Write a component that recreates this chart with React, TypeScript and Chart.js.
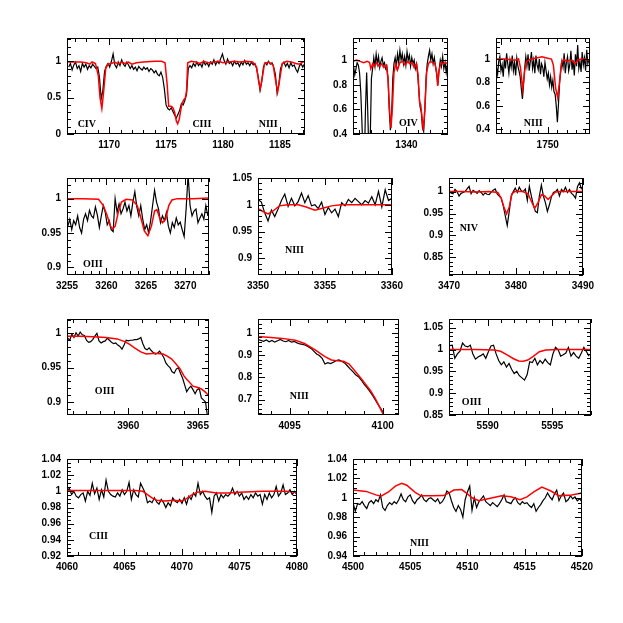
import React, { useEffect, useRef } from "react";
import { Chart, registerables } from "chart.js";
Chart.register(...registerables);

// ---------- Panel 1: 1166-1187 Å (CIV, CIII, NIII) ----------
const P1_OBS_START = 1166.45;
const P1_OBS_STEP = 0.15;
const P1_OBS_FLUX = [
  0.92, 0.97, 0.88, 0.95, 0.99, 0.9, 0.94, 0.86, 0.97, 0.92,
  0.96, 0.89, 0.94, 0.91, 0.96, 0.93, 0.9, 0.92, 0.78, 0.48,
  0.6, 0.86, 0.93, 0.97, 0.92, 1.0, 1.1, 0.95, 0.91, 0.99,
  0.94, 1.02, 0.96, 0.93, 0.99, 0.95, 0.9, 0.94, 0.89, 0.92,
  0.87, 0.93, 0.9, 0.88, 0.92, 0.89, 0.91, 0.86, 0.9, 0.88,
  0.84, 0.87, 0.82, 0.8, 0.85, 0.78, 0.62, 0.4, 0.35, 0.33,
  0.36, 0.31, 0.26, 0.22, 0.27, 0.33, 0.42, 0.4, 0.46, 0.55,
  0.9, 0.94, 0.91, 0.97, 0.93, 0.99, 0.94, 0.97, 0.92, 1.0,
  0.95, 0.98, 0.93, 0.99, 0.96, 1.02, 0.95, 1.0, 0.97, 1.04,
  1.1, 1.01, 0.96, 1.03, 0.97, 0.99, 0.94, 1.0, 0.96, 0.98,
  0.93, 0.99, 0.95, 1.01, 0.96, 0.98, 0.94, 0.99, 0.95, 0.97,
  0.9, 0.78, 0.6, 0.72, 0.92, 0.98, 0.95, 1.0, 0.96, 0.98,
  0.92, 0.82, 0.56, 0.68, 0.9, 0.96, 0.99, 0.93, 0.97, 0.91,
  0.98, 0.93, 0.95, 0.89, 0.85, 0.93, 0.97, 0.92, 0.96, 0.94,
];
const P1_MODEL_WAVE = [
  1166.3, 1167.0, 1167.5, 1168.0, 1168.3, 1168.5, 1168.8, 1169.05, 1169.2, 1169.36,
  1169.5, 1169.7, 1169.9, 1170.2, 1170.5, 1170.8, 1171.1, 1171.4, 1171.7, 1172.0,
  1172.4, 1173.0, 1174.0, 1174.6, 1174.91, 1175.09, 1175.23, 1175.45, 1175.6, 1175.75,
  1175.9, 1176.02, 1176.15, 1176.26, 1176.4, 1176.55, 1176.7, 1176.8, 1176.9, 1177.2,
  1177.6, 1178.0, 1178.3, 1178.7, 1179.2, 1179.6, 1180.0, 1180.5, 1181.0, 1181.5,
  1182.0, 1182.6, 1182.95, 1183.1, 1183.27, 1183.45, 1183.65, 1184.0, 1184.4, 1184.6,
  1184.8, 1184.95, 1185.2, 1185.6, 1186.0, 1186.4, 1186.7, 1187.0, 1187.3,
];
const P1_MODEL_FLUX = [
  0.99, 0.99, 0.99, 0.98, 0.96, 0.99, 0.97, 0.8, 0.5, 0.35,
  0.55, 0.9, 0.96, 0.97, 0.99, 0.96, 0.99, 0.97, 0.99, 0.96,
  0.98, 0.99, 1.0, 1.0, 0.98, 0.69, 0.38, 0.38, 0.36, 0.3,
  0.18, 0.14, 0.2, 0.3, 0.42, 0.47, 0.5, 0.6, 0.98, 1.0,
  0.99, 0.97, 1.0, 0.98, 0.99, 1.0, 0.98, 0.99, 1.0, 0.99,
  1.0, 0.99, 0.92, 0.75, 0.62, 0.78, 0.97, 0.99, 0.95, 0.75,
  0.58, 0.72, 0.97, 1.0, 0.99, 0.97, 0.96, 0.99, 1.0,
];
const P1_X_TICKS = [1170, 1175, 1180, 1185];
const P1_Y_TICKS = [0, 0.5, 1];

// ---------- Panel 2: OIV 1340 ----------
const P2_OBS_START = 1335.55;
const P2_OBS_STEP = 0.1;
const P2_OBS_FLUX = [
  0.95, 0.88, 0.93, 0.98, 0.96, 0.9, 0.75, 0.5, 0.2, 0.15,
  0.6, 0.9, 0.55, 0.2, 0.35, 0.85, 0.93, 1.02, 0.95, 1.05,
  0.97, 1.03, 0.94, 0.99, 1.02, 0.96, 0.98, 0.93, 0.95, 0.85,
  0.6, 0.43, 0.55, 0.85, 0.97, 1.02, 0.95, 1.05, 0.98, 1.08,
  1.0, 1.05, 0.97, 1.03, 0.96, 1.07, 1.0, 1.04, 0.95, 1.02,
  0.97, 1.0, 0.93, 0.97, 0.88, 0.75, 0.62, 0.58, 0.45, 0.42,
  0.6, 0.85, 0.97, 1.03, 1.08, 1.0, 1.05, 0.97, 1.02, 0.95,
  0.88, 0.8, 0.92, 1.0, 0.95, 1.03, 0.93, 0.98, 0.9, 0.97,
];
const P2_MODEL_WAVE = [
  1335.5, 1335.8, 1336.1, 1336.4, 1336.7, 1336.9, 1337.0, 1337.15, 1337.3, 1337.5,
  1337.7, 1337.9, 1338.1, 1338.3, 1338.45, 1338.58, 1338.7, 1338.82, 1338.95, 1339.1,
  1339.25, 1339.45, 1339.7, 1339.9, 1340.1, 1340.3, 1340.5, 1340.65, 1340.85, 1340.98,
  1341.1, 1341.2, 1341.3, 1341.42, 1341.55, 1341.7, 1341.85, 1342.0, 1342.2, 1342.4,
  1342.55, 1342.63, 1342.72, 1342.9, 1343.1, 1343.3, 1343.5,
];
const P2_MODEL_FLUX = [
  0.99, 1.0, 0.99, 0.98, 0.99, 0.98, 0.93, 0.97, 0.95, 0.98,
  0.95, 0.97, 0.94, 0.96, 0.85, 0.6, 0.45, 0.62, 0.9, 0.97,
  0.92, 0.98, 0.99, 0.96, 0.99, 0.97, 0.98, 0.94, 0.97, 0.88,
  0.66, 0.64, 0.55, 0.43, 0.6, 0.9, 0.97, 0.99, 0.98, 0.97,
  0.9, 0.79, 0.9, 0.98, 0.97, 0.98, 0.97,
];
const P2_X_TICKS = [1340];
const P2_Y_TICKS = [0.4, 0.6, 0.8, 1];

// ---------- Panel 3: NIII 1750 ----------
const P3_OBS_START = 1744.55;
const P3_OBS_STEP = 0.12;
const P3_OBS_FLUX = [
  0.93, 0.87, 0.98, 1.02, 0.9, 0.95, 0.85, 1.0, 0.92, 1.05,
  0.96, 0.88, 0.99, 0.93, 1.03, 0.9, 0.97, 0.86, 1.01, 0.94,
  0.9, 0.85, 0.75, 0.66, 0.78, 0.92, 1.02, 0.94, 1.04, 0.9,
  0.98, 1.06, 0.92, 0.99, 0.88, 1.03, 0.95, 0.91, 1.0, 0.87,
  0.96, 0.93, 0.85, 0.97, 0.9, 0.83, 0.88, 0.78, 0.85, 0.76,
  0.82, 0.72, 0.7, 0.6, 0.46, 0.62, 0.8, 0.9, 0.98, 0.93,
  1.05, 0.88, 0.97, 1.02, 0.9, 0.95, 1.07, 0.91, 0.99, 0.86,
  1.04, 0.94, 1.12, 0.92, 0.98, 0.89, 1.06, 0.95, 1.01, 0.9,
  1.08, 0.96, 1.0,
];
const P3_MODEL_WAVE = [
  1744.5, 1745.5, 1746.5, 1746.9, 1747.1, 1747.34, 1747.55, 1747.75, 1748.2, 1748.8,
  1749.4, 1749.9, 1750.4, 1750.6, 1750.85, 1751.06, 1751.25, 1751.45, 1751.7, 1752.0,
  1752.3, 1752.6, 1752.9, 1753.2, 1753.6, 1754.0, 1754.5,
];
const P3_MODEL_FLUX = [
  1.0, 1.0, 0.99, 1.0, 0.93, 0.74, 0.9, 0.98, 1.0, 1.01,
  1.02, 1.01, 1.0, 0.95, 0.75, 0.67, 0.8, 0.96, 1.0, 0.98,
  0.99, 0.99, 0.96, 0.99, 1.0, 1.0, 0.99,
];
const P3_X_TICKS = [1750];
const P3_Y_TICKS = [0.4, 0.6, 0.8, 1];

// ---------- Panel 4: OIII 3255-3273 ----------
const P4_OBS_START = 3255.1;
const P4_OBS_STEP = 0.25;
const P4_OBS_FLUX = [
  0.96, 0.97, 0.955, 0.968, 0.962, 0.975, 0.958, 0.95, 0.97, 0.978,
  0.968, 0.983, 0.975, 0.972, 0.988, 0.976, 0.958, 0.975, 0.99, 0.98,
  0.962, 0.968, 0.955, 0.952, 1.0, 0.98, 0.992, 0.978, 0.985, 0.995,
  0.982, 0.99, 0.975, 0.995, 1.01, 0.988, 0.975, 0.99, 0.97, 0.955,
  0.962, 0.95, 0.968, 0.99, 1.012, 0.995, 0.985, 0.965, 0.975, 0.968,
  0.98, 0.96, 0.95, 0.965, 0.958, 0.972, 0.962, 0.966, 0.955, 0.945,
  0.985, 1.035, 0.99, 0.975, 0.982, 0.985, 0.965, 0.972, 0.978, 0.97,
  0.99, 0.975,
];
const P4_MODEL_WAVE = [
  3255, 3257, 3259.0, 3259.6, 3260.1, 3260.5, 3260.8, 3261.1, 3261.5, 3261.9,
  3262.5, 3263.3, 3263.9, 3264.3, 3264.8, 3265.25, 3265.7, 3266.1, 3266.4, 3266.75,
  3267.1, 3267.5, 3267.9, 3268.3, 3269.0, 3271, 3273,
];
const P4_MODEL_FLUX = [
  1.0, 1.0, 0.999, 0.99, 0.975, 0.96, 0.956, 0.96, 0.98, 0.995,
  0.999, 0.998, 0.99, 0.975, 0.953, 0.946, 0.96, 0.982, 0.984, 0.972,
  0.965, 0.97, 0.99, 0.998, 1.0, 1.0, 1.001,
];
const P4_X_TICKS = [3255, 3260, 3265, 3270];
const P4_Y_TICKS = [0.9, 0.95, 1];

// ---------- Panel 5: NIII 3350-3360 ----------
const P5_OBS_START = 3350.0;
const P5_OBS_STEP = 0.25;
const P5_OBS_FLUX = [
  1.01, 1.005, 0.985, 0.97, 0.99, 0.978, 0.992, 1.008, 1.02, 0.997,
  1.012, 0.998, 1.006, 1.022, 1.004, 1.017, 0.998, 1.0, 0.993, 1.005,
  0.982, 0.995, 0.985, 0.992, 0.978, 1.004, 0.998, 1.01, 1.004, 1.012,
  1.006, 1.0, 1.008, 1.003, 1.015, 1.0, 1.025, 0.996, 1.028, 1.008,
  1.012,
];
const P5_MODEL_WAVE = [3350, 3350.4, 3350.75, 3351.1, 3351.6, 3352.2, 3353.0, 3353.6, 3354.25, 3354.9, 3355.5, 3356.2, 3358, 3360];
const P5_MODEL_FLUX = [0.993, 0.987, 0.983, 0.988, 0.998, 1.0, 1.0, 0.996, 0.99, 0.994, 0.998, 1.0, 1.0, 1.0];
const P5_X_TICKS = [3350, 3355, 3360];
const P5_Y_TICKS = [0.9, 0.95, 1, 1.05];

// ---------- Panel 6: NIV 3470-3490 ----------
const P6_OBS_START = 3470.0;
const P6_OBS_STEP = 0.3;
const P6_OBS_FLUX = [
  1.003, 0.997, 0.995, 1.005, 1.0, 0.99, 0.996, 0.998, 1.0, 1.006,
  1.012, 0.995, 1.003, 1.0, 0.996, 1.002, 0.998, 0.992, 0.997, 0.994,
  0.993, 0.999, 1.003, 1.006, 0.995, 0.99, 0.985, 0.968, 0.945, 0.923,
  0.955, 0.99, 1.0, 1.008, 0.998, 1.01, 1.002, 1.0, 1.006, 0.98,
  1.012, 0.99, 0.97, 0.955, 0.952, 0.99, 1.015, 0.99, 0.975, 0.955,
  0.97, 0.988, 0.998, 1.0, 1.005, 0.99, 1.005, 1.0, 1.01, 0.998,
  1.005, 0.996, 0.992, 0.985, 1.012, 1.02, 1.005,
];
const P6_MODEL_WAVE = [
  3470, 3472, 3474, 3476, 3477.3, 3477.8, 3478.2, 3478.6, 3479.0, 3479.4,
  3479.8, 3481, 3481.8, 3482.3, 3482.8, 3483.3, 3483.8, 3484.3, 3484.8, 3485.3,
  3485.9, 3487, 3490,
];
const P6_MODEL_FLUX = [
  1.0, 1.0, 0.999, 1.0, 0.998, 0.985, 0.965, 0.949, 0.965, 0.995,
  1.0, 1.0, 0.995, 0.978, 0.962, 0.975, 0.993, 0.99, 0.982, 0.99,
  0.999, 1.0, 1.0,
];
const P6_X_TICKS = [3470, 3480, 3490];
const P6_Y_TICKS = [0.85, 0.9, 0.95, 1];

// ---------- Panel 7: OIII 3956-3966 ----------
const P7_OBS_START = 3955.65;
const P7_OBS_STEP = 0.15;
const P7_OBS_FLUX = [
  0.993, 0.99, 0.999, 0.994, 1.001, 0.996, 1.002, 0.998, 0.997, 0.99,
  0.987, 0.988, 0.991, 0.996, 1.0, 0.989, 0.986, 0.988, 0.989, 0.993,
  0.99, 0.987, 0.985, 0.986, 0.983, 0.981, 0.977, 0.983, 0.99, 0.989,
  0.99, 0.99, 0.991, 0.991, 0.992, 0.994, 0.985, 0.978, 0.976, 0.979,
  0.975, 0.972, 0.97, 0.971, 0.974, 0.97, 0.965, 0.957, 0.953, 0.95,
  0.944, 0.942, 0.948, 0.95, 0.942, 0.935, 0.925, 0.915, 0.92, 0.923,
  0.918, 0.912, 0.918, 0.92, 0.906, 0.903, 0.9, 0.878,
];
const P7_MODEL_WAVE = [
  3955.6, 3956.5, 3957.5, 3958.4, 3959.2, 3959.75, 3960.1, 3960.45, 3960.9, 3961.3,
  3961.9, 3962.5, 3962.8, 3963.1, 3963.4, 3963.7, 3964.0, 3964.2, 3964.65, 3965.0,
  3965.25, 3965.5, 3965.8,
];
const P7_MODEL_FLUX = [
  0.996, 0.996, 0.995, 0.994, 0.992, 0.988, 0.984, 0.979, 0.973, 0.97,
  0.971, 0.97, 0.967, 0.963, 0.956, 0.949, 0.938, 0.933, 0.923, 0.921,
  0.919, 0.915, 0.909,
];
const P7_X_TICKS = [3960, 3965];
const P7_Y_TICKS = [0.9, 0.95, 1];

// ---------- Panel 8: NIII 4093-4101 ----------
const P8_OBS_START = 4093.3;
const P8_OBS_STEP = 0.15;
const P8_OBS_FLUX = [
  0.97, 0.966, 0.962, 0.968, 0.96, 0.966, 0.958, 0.964, 0.97, 0.963,
  0.96, 0.966, 0.958, 0.961, 0.955, 0.95, 0.948, 0.944, 0.938, 0.93,
  0.918, 0.905, 0.898, 0.885, 0.86, 0.866, 0.862, 0.868, 0.875, 0.878,
  0.872, 0.865, 0.852, 0.838, 0.826, 0.812, 0.803, 0.788, 0.77, 0.755,
  0.738, 0.72, 0.7, 0.678, 0.66, 0.64,
];
const P8_MODEL_WAVE = [
  4093.3, 4094.0, 4094.6, 4095.3, 4095.8, 4096.35, 4096.9, 4097.25, 4097.6, 4097.9,
  4098.2, 4098.5, 4098.8, 4099.05, 4099.35, 4099.6, 4099.85, 4100.05, 4100.2,
];
const P8_MODEL_FLUX = [
  0.983, 0.979, 0.975, 0.967, 0.952, 0.925, 0.893, 0.878, 0.874, 0.872,
  0.86, 0.83, 0.8, 0.773, 0.74, 0.706, 0.665, 0.63, 0.6,
];
const P8_X_TICKS = [4095, 4100];
const P8_Y_TICKS = [0.7, 0.8, 0.9, 1];

// ---------- Panel 9: OIII 5587-5598 ----------
const P9_OBS_START = 5587.05;
const P9_OBS_STEP = 0.2;
const P9_OBS_FLUX = [
  1.009, 1.01, 0.98, 0.99, 0.996, 1.015, 1.008, 1.006, 1.01, 0.99,
  0.978, 0.983, 0.986, 0.99, 0.98, 0.995, 1.008, 1.01, 0.99, 0.975,
  0.965, 0.972, 0.96, 0.968, 0.955, 0.945, 0.95, 0.94, 0.935, 0.93,
  0.942, 0.972, 0.97, 0.98, 0.965, 0.975, 0.968, 0.978, 0.97, 0.965,
  0.99, 1.005, 1.0, 0.985, 0.988, 0.992, 1.005, 0.985, 0.993, 0.985,
  0.98, 0.992, 1.005, 0.995, 0.985,
];
const P9_MODEL_WAVE = [5587, 5589, 5590.5, 5591.0, 5591.5, 5592.0, 5592.4, 5592.75, 5593.1, 5593.5, 5594.0, 5594.5, 5595.5, 5598];
const P9_MODEL_FLUX = [1.0, 1.0, 0.999, 0.996, 0.988, 0.979, 0.974, 0.973, 0.976, 0.984, 0.995, 0.999, 1.0, 1.0];
const P9_X_TICKS = [5590, 5595];
const P9_Y_TICKS = [0.85, 0.9, 0.95, 1, 1.05];

// ---------- Panel 10: CIII 4060-4080 ----------
const P10_OBS_START = 4060.0;
const P10_OBS_STEP = 0.2;
const P10_OBS_FLUX = [
  0.998, 1.004, 0.996, 1.0, 0.994, 0.992, 0.996, 0.998, 0.988, 1.0,
  0.995, 1.01, 0.997, 1.004, 0.99, 1.002, 0.993, 1.014, 1.0, 0.996,
  0.994, 0.993, 0.998, 0.994, 1.002, 0.996, 1.0, 1.011, 0.99, 1.002,
  0.996, 0.993, 1.01, 1.004, 0.998, 0.986, 0.988, 0.986, 0.992, 0.987,
  0.984, 0.99, 0.986, 0.98, 0.986, 0.982, 0.992, 0.988, 0.986, 0.99,
  0.985, 0.992, 0.984, 0.994, 0.99, 0.998, 0.994, 1.01, 0.996, 1.0,
  0.994, 0.99, 0.992, 0.974, 0.994, 0.998, 0.988, 0.996, 0.992, 0.996,
  0.994, 0.997, 1.004, 0.996, 1.0, 0.994, 0.998, 0.99, 0.994, 0.99,
  0.996, 0.992, 0.998, 0.994, 0.996, 0.984, 0.996, 0.99, 0.998, 0.992,
  0.996, 1.006, 0.994, 0.998, 1.008, 0.996, 0.998, 1.002, 0.996, 1.0,
  0.996,
];
const P10_MODEL_WAVE = [
  4060, 4062, 4064, 4066, 4066.6, 4067.0, 4067.4, 4067.8, 4068.5, 4069.3,
  4069.9, 4070.3, 4070.8, 4071.3, 4072, 4073, 4074, 4075, 4077, 4079,
  4080,
];
const P10_MODEL_FLUX = [
  1.001, 1.001, 1.001, 1.001, 1.0, 0.996, 0.992, 0.989, 0.988, 0.989,
  0.988, 0.99, 0.995, 0.999, 1.0, 0.998, 0.998, 0.999, 1.0, 1.0,
  0.999,
];
const P10_X_TICKS = [4060, 4065, 4070, 4075, 4080];
const P10_Y_TICKS = [0.92, 0.94, 0.96, 0.98, 1, 1.02, 1.04];

// ---------- Panel 11: NIII 4500-4520 ----------
const P11_OBS_START = 4500.0;
const P11_OBS_STEP = 0.2;
const P11_OBS_FLUX = [
  0.995, 0.986, 0.994, 0.993, 0.996, 0.992, 0.989, 0.995, 0.997, 0.994,
  0.998, 0.996, 1.003, 0.99, 0.987, 0.992, 0.995, 0.993, 0.996, 0.994,
  0.998, 1.004, 0.998, 0.996, 1.001, 1.003, 0.997, 0.994, 0.998, 1.0,
  1.003, 0.998, 0.996, 0.999, 1.0, 0.998, 0.996, 0.999, 0.994, 0.996,
  1.0, 1.007, 1.005, 0.997, 0.99, 0.986, 0.992, 0.988, 0.98, 0.998,
  1.006, 1.012, 0.987, 1.0, 0.99, 0.996, 0.999, 1.002, 0.996, 0.994,
  0.992, 0.995, 0.993, 0.991, 0.994, 0.998, 1.003, 0.996, 0.995, 0.994,
  0.998, 1.0, 0.995, 0.993, 0.996, 0.994, 0.995, 0.992, 0.99, 0.994,
  0.986, 0.99, 0.993, 0.997, 1.0, 1.005, 1.001, 0.998, 1.004, 1.008,
  0.997, 1.002, 1.005, 0.996, 0.998, 1.002, 0.999, 1.001, 0.997, 0.999,
  0.996,
];
const P11_MODEL_WAVE = [
  4500, 4501.15, 4502.0, 4502.45, 4503.1, 4503.7, 4504.25, 4504.7, 4505.1, 4505.5,
  4505.95, 4506.8, 4507.9, 4508.4, 4508.8, 4509.5, 4510.0, 4510.4, 4511.0, 4511.8,
  4513.0, 4513.8, 4514.6, 4515.2, 4515.8, 4516.5, 4517.3, 4518.0, 4519.1, 4520,
];
const P11_MODEL_FLUX = [
  1.008, 1.0066, 1.003, 1.0017, 1.006, 1.012, 1.015, 1.013, 1.009, 1.005,
  1.002, 1.002, 1.0023, 1.005, 1.008, 1.0085, 1.004, 1.0, 0.997, 0.999,
  1.002, 1.001, 0.998, 1.001, 1.006, 1.011, 1.007, 1.002, 1.003, 1.005,
];
const P11_X_TICKS = [4500, 4505, 4510, 4515, 4520];
const P11_Y_TICKS = [0.94, 0.96, 0.98, 1, 1.02, 1.04];

// ---------- panel configuration ----------
type Ion = { text: string; x: number; y: number };
type Spec = {
  left: number; top: number; w: number; h: number;
  xMin: number; xMax: number; yMin: number; yMax: number;
  xTicks: number[]; yTicks: number[];
  xMinor: number; xMajor: number; yMinor: number; yMajor: number;
  obsStart: number; obsStep: number; obsFlux: number[];
  modelWave: number[]; modelFlux: number[];
  ions: Ion[];
};

const PANELS: Spec[] = [
  {
    left: 67, top: 34, w: 238, h: 100, xMin: 1166.3, xMax: 1187.2, yMin: 0, yMax: 1.32,
    xTicks: P1_X_TICKS, yTicks: P1_Y_TICKS, xMinor: 1, xMajor: 5, yMinor: 0.1, yMajor: 0.5,
    obsStart: P1_OBS_START, obsStep: P1_OBS_STEP, obsFlux: P1_OBS_FLUX,
    modelWave: P1_MODEL_WAVE, modelFlux: P1_MODEL_FLUX,
    ions: [{ text: "CIV", x: 1168.04, y: 0.13 }, { text: "CIII", x: 1178.14, y: 0.13 }, { text: "NIII", x: 1183.96, y: 0.13 }],
  },
  {
    left: 353, top: 34, w: 95, h: 100, xMin: 1335.5, xMax: 1343.5, yMin: 0.4, yMax: 1.18,
    xTicks: P2_X_TICKS, yTicks: P2_Y_TICKS, xMinor: 1, xMajor: 5, yMinor: 0.05, yMajor: 0.2,
    obsStart: P2_OBS_START, obsStep: P2_OBS_STEP, obsFlux: P2_OBS_FLUX,
    modelWave: P2_MODEL_WAVE, modelFlux: P2_MODEL_FLUX,
    ions: [{ text: "OIV", x: 1340.16, y: 0.49 }],
  },
  {
    left: 496, top: 34, w: 94, h: 100, xMin: 1744.5, xMax: 1754.5, yMin: 0.36, yMax: 1.18,
    xTicks: P3_X_TICKS, yTicks: P3_Y_TICKS, xMinor: 1, xMajor: 5, yMinor: 0.05, yMajor: 0.2,
    obsStart: P3_OBS_START, obsStep: P3_OBS_STEP, obsFlux: P3_OBS_FLUX,
    modelWave: P3_MODEL_WAVE, modelFlux: P3_MODEL_FLUX,
    ions: [{ text: "NIII", x: 1748.47, y: 0.45 }],
  },
  {
    left: 67, top: 174, w: 142, h: 101, xMin: 3255, xMax: 3273, yMin: 0.889, yMax: 1.03,
    xTicks: P4_X_TICKS, yTicks: P4_Y_TICKS, xMinor: 1, xMajor: 5, yMinor: 0.01, yMajor: 0.05,
    obsStart: P4_OBS_START, obsStep: P4_OBS_STEP, obsFlux: P4_OBS_FLUX,
    modelWave: P4_MODEL_WAVE, modelFlux: P4_MODEL_FLUX,
    ions: [{ text: "OIII", x: 3258.27, y: 0.904 }],
  },
  {
    left: 258, top: 174, w: 142, h: 101, xMin: 3350, xMax: 3360, yMin: 0.869, yMax: 1.05,
    xTicks: P5_X_TICKS, yTicks: P5_Y_TICKS, xMinor: 1, xMajor: 5, yMinor: 0.01, yMajor: 0.05,
    obsStart: P5_OBS_START, obsStep: P5_OBS_STEP, obsFlux: P5_OBS_FLUX,
    modelWave: P5_MODEL_WAVE, modelFlux: P5_MODEL_FLUX,
    ions: [{ text: "NIII", x: 3352.72, y: 0.914 }],
  },
  {
    left: 449, top: 174, w: 142, h: 101, xMin: 3470, xMax: 3490, yMin: 0.81, yMax: 1.031,
    xTicks: P6_X_TICKS, yTicks: P6_Y_TICKS, xMinor: 2, xMajor: 10, yMinor: 0.01, yMajor: 0.05,
    obsStart: P6_OBS_START, obsStep: P6_OBS_STEP, obsFlux: P6_OBS_FLUX,
    modelWave: P6_MODEL_WAVE, modelFlux: P6_MODEL_FLUX,
    ions: [{ text: "NIV", x: 3472.96, y: 0.917 }],
  },
  {
    left: 67, top: 315, w: 142, h: 100, xMin: 3955.6, xMax: 3965.8, yMin: 0.881, yMax: 1.021,
    xTicks: P7_X_TICKS, yTicks: P7_Y_TICKS, xMinor: 1, xMajor: 5, yMinor: 0.01, yMajor: 0.05,
    obsStart: P7_OBS_START, obsStep: P7_OBS_STEP, obsFlux: P7_OBS_FLUX,
    modelWave: P7_MODEL_WAVE, modelFlux: P7_MODEL_FLUX,
    ions: [{ text: "OIII", x: 3958.3, y: 0.915 }],
  },
  {
    left: 258, top: 315, w: 141, h: 100, xMin: 4093.3, xMax: 4100.88, yMin: 0.631, yMax: 1.062,
    xTicks: P8_X_TICKS, yTicks: P8_Y_TICKS, xMinor: 1, xMajor: 5, yMinor: 0.02, yMajor: 0.1,
    obsStart: P8_OBS_START, obsStep: P8_OBS_STEP, obsFlux: P8_OBS_FLUX,
    modelWave: P8_MODEL_WAVE, modelFlux: P8_MODEL_FLUX,
    ions: [{ text: "NIII", x: 4095.52, y: 0.7125 }],
  },
  {
    left: 449, top: 315, w: 142, h: 100, xMin: 5587, xMax: 5598, yMin: 0.85, yMax: 1.07,
    xTicks: P9_X_TICKS, yTicks: P9_Y_TICKS, xMinor: 1, xMajor: 5, yMinor: 0.01, yMajor: 0.05,
    obsStart: P9_OBS_START, obsStep: P9_OBS_STEP, obsFlux: P9_OBS_FLUX,
    modelWave: P9_MODEL_WAVE, modelFlux: P9_MODEL_FLUX,
    ions: [{ text: "OIII", x: 5588.75, y: 0.879 }],
  },
  {
    left: 67, top: 455, w: 238, h: 101, xMin: 4060, xMax: 4080, yMin: 0.92, yMax: 1.04,
    xTicks: P10_X_TICKS, yTicks: P10_Y_TICKS, xMinor: 1, xMajor: 5, yMinor: 0.005, yMajor: 0.02,
    obsStart: P10_OBS_START, obsStep: P10_OBS_STEP, obsFlux: P10_OBS_FLUX,
    modelWave: P10_MODEL_WAVE, modelFlux: P10_MODEL_FLUX,
    ions: [{ text: "CIII", x: 4062.74, y: 0.9437 }],
  },
  {
    left: 353, top: 455, w: 237, h: 101, xMin: 4500, xMax: 4520, yMin: 0.94, yMax: 1.04,
    xTicks: P11_X_TICKS, yTicks: P11_Y_TICKS, xMinor: 1, xMajor: 5, yMinor: 0.005, yMajor: 0.02,
    obsStart: P11_OBS_START, obsStep: P11_OBS_STEP, obsFlux: P11_OBS_FLUX,
    modelWave: P11_MODEL_WAVE, modelFlux: P11_MODEL_FLUX,
    ions: [{ text: "NIII", x: 4505.8, y: 0.9529 }],
  },
];

const AXIS_W = 50;
const AXIS_H = 22;
const PAD = 8;
const TICK_FONT = { family: '"Liberation Sans", Arial, Helvetica, sans-serif', size: 10, weight: "bold" as const };

const fmt = (v: number) => String(Math.round(v * 1000) / 1000);

const framePlugin = {
  id: "frameTicks",
  afterDatasetsDraw(chart: any, _args: any, opts: any) {
    const { ctx, chartArea } = chart;
    const left = Math.round(chartArea.left);
    const right = Math.round(chartArea.right);
    const top = Math.round(chartArea.top);
    const bottom = Math.round(chartArea.bottom);
    const xs = chart.scales.x;
    const ys = chart.scales.y;
    ctx.save();
    ctx.strokeStyle = "#000";
    ctx.lineWidth = 1;
    ctx.strokeRect(left + 0.5, top + 0.5, right - left - 1, bottom - top - 1);
    const each = (min: number, max: number, minor: number, major: number, fn: (v: number, len: number) => void) => {
      const k0 = Math.ceil(min / minor - 1e-6);
      const k1 = Math.floor(max / minor + 1e-6);
      for (let k = k0; k <= k1; k++) {
        const v = k * minor;
        const r = v / major;
        fn(v, Math.abs(r - Math.round(r)) < 1e-6 ? 7 : 4);
      }
    };
    ctx.beginPath();
    each(xs.min, xs.max, opts.xMinor, opts.xMajor, (v, len) => {
      const p = Math.round(xs.getPixelForValue(v)) + 0.5;
      ctx.moveTo(p, bottom); ctx.lineTo(p, bottom - len);
      ctx.moveTo(p, top); ctx.lineTo(p, top + len);
    });
    each(ys.min, ys.max, opts.yMinor, opts.yMajor, (v, len) => {
      const p = Math.round(ys.getPixelForValue(v)) + 0.5;
      ctx.moveTo(left, p); ctx.lineTo(left + len, p);
      ctx.moveTo(right, p); ctx.lineTo(right - len, p);
    });
    ctx.stroke();
    ctx.fillStyle = "#000";
    ctx.font = 'bold 10px "Liberation Serif", "Times New Roman", serif';
    ctx.textAlign = "center";
    ctx.textBaseline = "middle";
    for (const ion of opts.ions as Ion[]) {
      ctx.fillText(ion.text, xs.getPixelForValue(ion.x), ys.getPixelForValue(ion.y));
    }
    ctx.restore();
  },
};

function Panel({ spec }: { spec: Spec }) {
  const ref = useRef<HTMLCanvasElement | null>(null);
  const W = spec.w + AXIS_W + PAD;
  const H = spec.h + AXIS_H + PAD;
  useEffect(() => {
    if (!ref.current) return;
    const chart = new Chart(ref.current, {
      type: "line",
      data: {
        datasets: [
          {
            data: spec.modelWave.map((x, i) => ({ x, y: spec.modelFlux[i] })),
            borderColor: "#ff0000",
            borderWidth: 1.5,
            pointRadius: 0,
            tension: 0,
            fill: false,
          },
          {
            data: spec.obsFlux.map((y, i) => ({ x: spec.obsStart + i * spec.obsStep, y })),
            borderColor: "#000000",
            borderWidth: 1.2,
            pointRadius: 0,
            tension: 0,
            fill: false,
          },
        ],
      },
      options: {
        responsive: false,
        animation: false,
        devicePixelRatio: 1,
        events: [],
        layout: { padding: { top: PAD, right: PAD, left: 0, bottom: 0 } },
        plugins: {
          legend: { display: false },
          tooltip: { enabled: false },
          frameTicks: {
            xMinor: spec.xMinor, xMajor: spec.xMajor, yMinor: spec.yMinor, yMajor: spec.yMajor, ions: spec.ions,
          },
        } as any,
        scales: {
          x: {
            type: "linear",
            min: spec.xMin,
            max: spec.xMax,
            grid: { display: false, drawTicks: false },
            border: { display: false },
            afterBuildTicks: (s: any) => { s.ticks = spec.xTicks.map((v) => ({ value: v })); },
            afterFit: (s: any) => { s.height = AXIS_H; },
            ticks: {
              autoSkip: false, maxRotation: 0, minRotation: 0, padding: 5, color: "#000",
              font: TICK_FONT, callback: (v: any) => fmt(Number(v)),
            },
          },
          y: {
            type: "linear",
            min: spec.yMin,
            max: spec.yMax,
            grid: { display: false, drawTicks: false },
            border: { display: false },
            afterBuildTicks: (s: any) => { s.ticks = spec.yTicks.map((v) => ({ value: v })); },
            afterFit: (s: any) => { s.width = AXIS_W; },
            ticks: {
              autoSkip: false, padding: 6, color: "#000",
              font: TICK_FONT, callback: (v: any) => fmt(Number(v)),
            },
          },
        },
      } as any,
      plugins: [framePlugin],
    });
    return () => chart.destroy();
  }, [spec]);
  return (
    <canvas
      ref={ref}
      width={W}
      height={H}
      style={{ position: "absolute", left: spec.left - AXIS_W, top: spec.top - PAD, width: W, height: H }}
    />
  );
}

export default function App() {
  return (
    <div style={{ position: "absolute", left: 0, top: 0, width: 623, height: 623, background: "#ffffff" }}>
      {PANELS.map((p, i) => (
        <Panel key={i} spec={p} />
      ))}
    </div>
  );
}
